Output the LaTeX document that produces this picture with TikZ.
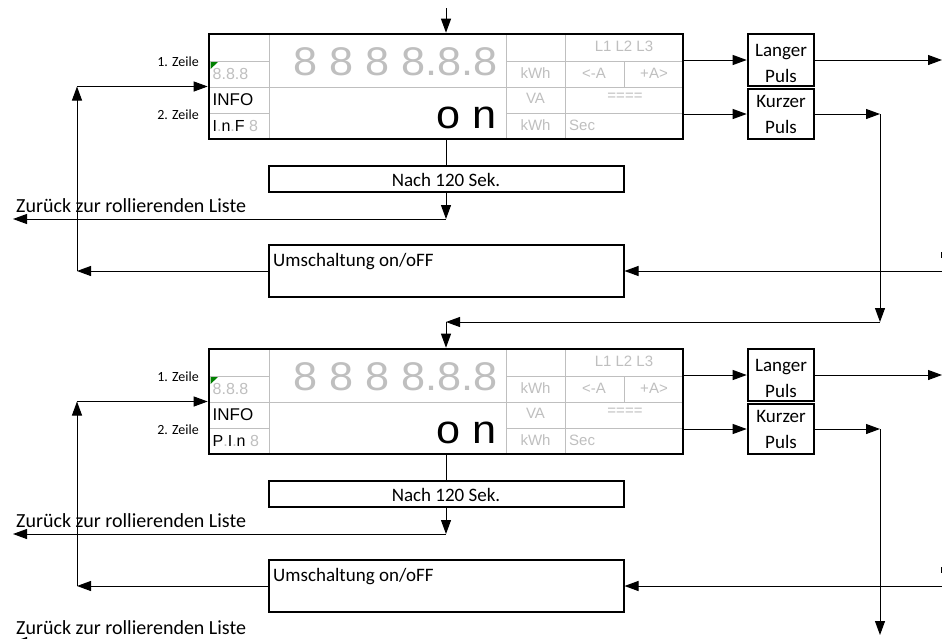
\documentclass[tikz,border=0pt]{standalone}
\usepackage{fontspec}
\setmainfont{Carlito}
\newfontfamily\arial{Liberation Sans}
\usetikzlibrary{arrows.meta}
\definecolor{lg}{RGB}{191,191,191}
\definecolor{mk}{RGB}{0,128,0}
\tikzset{
  conn/.style={line width=1pt, -{Triangle[length=14pt,width=10pt]}},
  plain/.style={line width=1pt},
  thickbox/.style={draw, line width=2.6pt, inner sep=0pt},
  medbox/.style={draw, line width=2pt, inner sep=0pt},
  gridline/.style={draw=lg, line width=1pt},
  txt/.style={inner sep=0pt},
  glab/.style={inner sep=0pt, text=lg, font={\arial\fontsize{15}{15}\selectfont}},
  ctext/.style={inner sep=0pt, font={\fontsize{19}{19}\selectfont}},
  ltext/.style={inner sep=0pt, font={\fontsize{20}{20}\selectfont}},
  ztext/.style={inner sep=0pt, font={\fontsize{14}{14}\selectfont}},
}
\newcommand{\dsec}[4]{%
\begin{scope}[shift={(0,#2)}]
  % display grid
  \draw[gridline] (269,34)--(269,139) (506,34)--(506,139) (565,34)--(565,139) (624,61)--(624,87)
    (209,61)--(269,61) (209,87)--(506,87) (209,113)--(269,113)
    (506,61)--(683,61) (506,87)--(683,87) (506,113)--(683,113);
  \node[thickbox, minimum width=474pt, minimum height=105pt] (disp#1) at (446,86.5) {};
  \fill[mk] (210.5,62) -- (218,62) -- (210.5,69) -- cycle;
  % display texts
  \node[txt, anchor=base east, text=lg, xscale=1.08] (big#1) at (498,75) {\arial\fontsize{40}{40}\selectfont 8 8 8 8.8.8};
  \node[txt, anchor=base east, xscale=1.08] (on#1) at (497,128) {\arial\fontsize{40}{40}\selectfont o n};
  \node[txt, anchor=base west, text=lg] (seg#1) at (212.5,79) {\arial\fontsize{16}{16}\selectfont 8.8.8};
  \node[txt, anchor=base west] (info#1) at (212.5,105) {\arial\fontsize{17}{17}\selectfont INFO};
  \node[txt, anchor=base west] (ln#1) at (212.5,131) {\arial\fontsize{16}{16}\selectfont #3};
  \node[glab, anchor=base] (gA#1) at (624,51.5) {L1 L2 L3};
  \node[glab, anchor=base] (gB#1) at (535.5,78.5) {kWh};
  \node[glab, anchor=base] (gC#1) at (594,78.5) {<-A};
  \node[glab, anchor=base] (gD#1) at (654,78.5) {+A>};
  \node[glab, anchor=base] (gE#1) at (535.5,103) {VA};
  \node[glab, anchor=base] (gF#1) at (625,100) {====};
  \node[glab, anchor=base] (gG#1) at (535.5,130) {kWh};
  \node[glab, anchor=base west] (gH#1) at (569,130) {Sec};
  \node[ztext, anchor=base east] (z1l#1) at (199,66) {1. Zeile};
  \node[ztext, anchor=base east] (z2l#1) at (199,119) {2. Zeile};
  % pulse boxes
  \node[thickbox, minimum width=66pt, minimum height=52pt] (lang#1) at (781,60) {};
  \node[ctext, anchor=base] (langA#1) at (781,56) {Langer};
  \node[ctext, anchor=base] (langB#1) at (781,82) {Puls};
  \node[thickbox, minimum width=66pt, minimum height=50pt] (kurz#1) at (781,114) {};
  \node[ctext, anchor=base] (kurzA#1) at (781,107.5) {Kurzer};
  \node[ctext, anchor=base] (kurzB#1) at (781,133) {Puls};
  % lower boxes
  \node[medbox, minimum width=355pt, minimum height=26pt] (nach#1) at (446,179) {};
  \node[ctext, anchor=base] (nacht#1) at (446,186) {Nach 120 Sek.};
  \node[medbox, minimum width=355pt, minimum height=52pt] (ums#1) at (446,271) {};
  \node[ctext, anchor=base west] (umst#1) at (273,266) {Umschaltung on/oFF};
  \node[ltext, anchor=base west] (zur#1) at (16,212.7) {Zurück zur rollierenden Liste};
  % coordinates
  \coordinate (cL#1) at (77,86.5);
  \coordinate (cB#1) at (77,271);
  \coordinate (zA#1) at (446,219);
  \coordinate (zB#1) at (13,219);
  \coordinate (rO#1) at (942,60);
  \coordinate (kR#1) at (880,114);
  \coordinate (kD#1) at (880,#4);
  \coordinate (rI#1) at (942,271);
  % connectors
  \draw[plain] (disp#1.south) -- (nach#1.north);
  \draw[conn] (nach#1.south) -- (zA#1);
  \draw[conn] (zA#1) -- (zB#1);
  \draw[conn] (ums#1.west) -- (cB#1);
  \draw[conn] (cB#1) -- (cL#1);
  \draw[conn] (cL#1) -- (disp#1.west);
  \draw[conn] (disp#1.east |- lang#1.west) -- (lang#1.west);
  \draw[conn] (disp#1.east |- kurz#1.west) -- (kurz#1.west);
  \draw[conn] (lang#1.east) -- (rO#1);
  \draw[conn] (kurz#1.east) -- (kR#1);
  \draw[conn] (kR#1) -- (kD#1);
  \draw[conn] (rI#1) -- (ums#1.east);
  \draw[line width=0.8pt] (941.5,252) -- (941.5,258);
\end{scope}}
\begin{document}
\begin{tikzpicture}[x=1pt,y=-1pt]
  \useasboundingbox (0,0) rectangle (942,638);
  \clip (0,0) rectangle (942,638);
  \fill[white] (0,0) rectangle (942,638);
  \dsec{a}{0}{I{\color{lg}.}n{\color{lg}.}F {\color{lg}8}}{322}
  \dsec{b}{315}{P{\color{lg}.}I{\color{lg}.}n {\color{lg}8}}{320}
  % links between sections
  \coordinate (start) at (446,8);
  \draw[conn] (start) -- (dispa.north);
  \coordinate (tb) at (446,322);
  \draw[conn] (kDa) -- (tb);
  \draw[conn] (tb) -- (dispb.north);
  % label at the bottom edge
  \node[ltext, anchor=base west] (zurc) at (16,634.5) {Zurück zur rollierenden Liste};
  \coordinate (zcR) at (80,642);
  \coordinate (zcL) at (13,642);
  \draw[conn] (zcR) -- (zcL);
\end{tikzpicture}
\end{document}
